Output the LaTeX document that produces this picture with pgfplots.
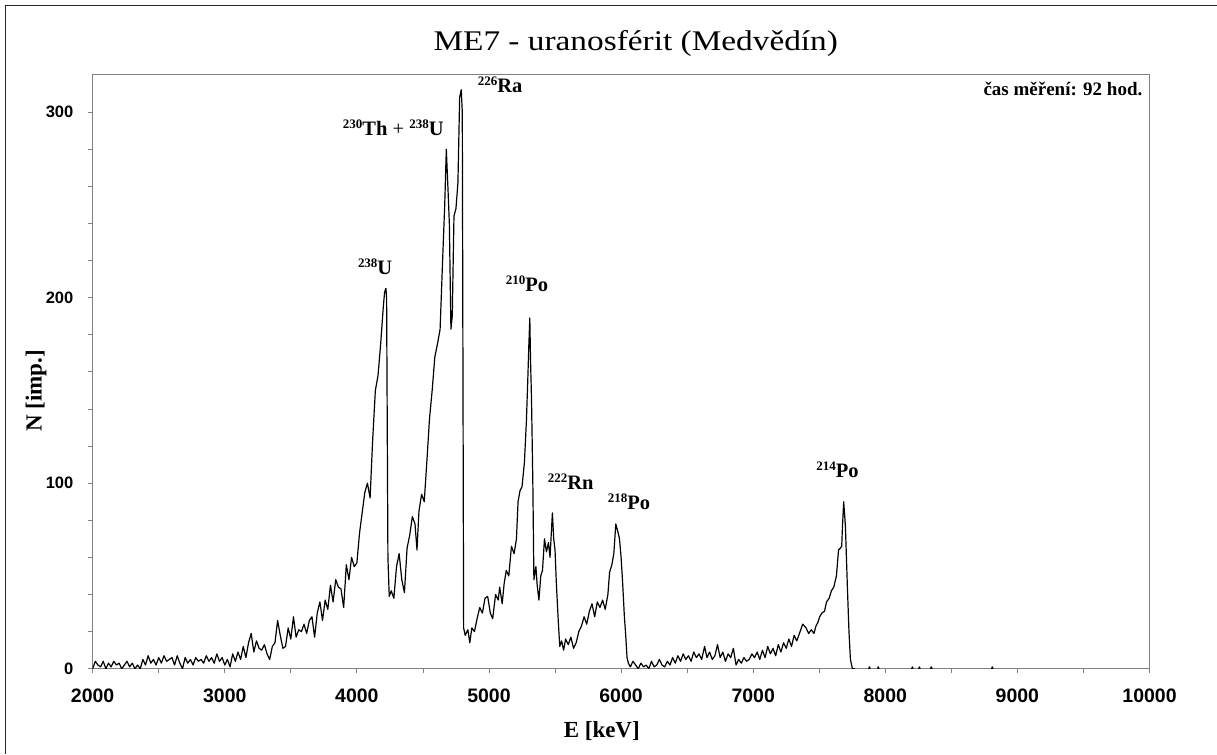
\documentclass[border=0pt]{standalone}
\usepackage{fontspec}
\setmainfont{Liberation Serif}
\newfontfamily\arial{Liberation Sans}
\usepackage{graphicx}
\usepackage{pgfplots}
\pgfplotsset{compat=1.18}
\definecolor{axisgray}{RGB}{128,128,128}
% isotope label: mass number raised, element symbol
\newcommand{\iso}[2]{\raisebox{6.8pt}{\fontsize{13}{13}\selectfont\bfseries #1}#2}

\begin{document}
\begin{tikzpicture}
\path (0,0) rectangle (1217pt,754pt);
\draw[line width=1pt, black!85] (6pt,0pt) -- (6pt,748pt) -- (1217pt,748pt);
\node[anchor=base, inner sep=0pt] at (636pt,703pt)
  {\scalebox{1.17}[1]{\fontsize{28.5}{32}\selectfont ME7 - uranosférit (Medvědín)}};
\node[anchor=base, inner sep=0pt, font=\bfseries\fontsize{23}{25}\selectfont] at (602pt,16pt) {E [keV]};
\node[rotate=90, anchor=base, inner sep=0pt, font=\bfseries\fontsize{23}{25}\selectfont] at (41.7pt,363pt) {N [imp.]};

\begin{axis}[
  at={(92.7pt,85pt)}, anchor=south west,
  scale only axis, width=1057.3pt, height=594pt,
  xmin=2000, xmax=10000, ymin=0, ymax=320,
  xtick={2000,3000,...,10000}, minor x tick num=1,
  ytick={0,100,200,300}, minor y tick num=4,
  xtick pos=bottom, ytick pos=left,
  scaled x ticks=false, scaled y ticks=false,
  tick align=outside, major tick length=4.5pt, minor tick length=4.5pt,
  axis line style={axisgray, line width=1pt},
  every tick/.style={axisgray, line width=0.8pt},
  /pgf/number format/assume math mode=true,
  /pgf/number format/1000 sep={},
  xticklabel style={font={\arial\bfseries\fontsize{19.5}{20}\selectfont}, inner sep=0pt, anchor=north, yshift=-15pt},
  yticklabel style={font={\arial\bfseries\fontsize{16.5}{18}\selectfont}, inner sep=0pt, anchor=east, xshift=-14.7pt},
  unbounded coords=jump,
]
\addplot[black, line width=1.2pt, line join=round, mark=none] coordinates {
(2000,0)(2020,4)(2040,2)(2060,1)(2080,4)(2100,0)(2120,3)(2140,1)(2160,4)(2180,2)
(2200,3)(2220,0)(2240,2)(2260,4)(2280,1)(2300,3)(2320,0)(2340,2)(2360,0)(2380,5)
(2400,2)(2420,7)(2440,3)(2460,5)(2480,2)(2500,6)(2520,3)(2540,7)(2560,4)(2580,5)
(2600,6)(2620,2)(2640,7)(2660,3)(2680,0)(2700,6)(2720,3)(2740,5)(2760,2)(2780,6)
(2800,4)(2820,5)(2840,3)(2860,7)(2880,4)(2900,6)(2920,3)(2940,8)(2960,4)(2980,6)
(3000,2)(3020,5)(3040,1)(3060,8)(3080,4)(3100,9)(3120,5)(3140,12)(3160,6)(3180,14)
(3200,19)(3220,9)(3240,15)(3260,11)(3280,10)(3300,13)(3320,8)(3340,5)(3360,12)(3380,14)
(3400,26)(3420,18)(3440,11)(3460,12)(3480,22)(3500,16)(3520,28)(3540,17)(3560,21)(3580,20)
(3600,24)(3620,19)(3640,26)(3660,28)(3680,17)(3700,30)(3720,36)(3740,26)(3760,37)(3780,32)
(3800,45)(3820,36)(3840,48)(3860,44)(3880,43)(3900,33)(3920,56)(3940,48)(3960,60)(3980,55)
(4000,57)(4020,73)(4040,84)(4060,95)(4080,100)(4100,92)(4120,124)(4140,150)(4160,158)(4180,175)
(4200,195)(4210,203)(4220,205)(4225,200)(4235,60)(4245,39)(4260,42)(4280,38)(4300,55)(4320,62)
(4340,48)(4360,41)(4380,65)(4400,72)(4420,82)(4440,78)(4455,64)(4470,85)(4490,94)(4510,90)
(4530,112)(4550,135)(4570,150)(4590,168)(4610,175)(4630,183)(4650,222)(4665,250)(4677,280)(4690,258)
(4700,240)(4712,183)(4722,190)(4735,244)(4750,248)(4765,262)(4778,308)(4790,312)(4798,300)(4808,22)
(4820,18)(4840,21)(4855,14)(4870,22)(4890,20)(4910,27)(4930,33)(4950,30)(4970,38)(4990,39)
(5010,30)(5028,27)(5050,40)(5070,37)(5081,44)(5100,35)(5115,46)(5131,53)(5150,50)(5170,66)
(5190,62)(5208,70)(5220,90)(5235,96)(5250,98)(5268,111)(5283,133)(5293,154)(5302,175)(5309,189)
(5315,165)(5322,145)(5332,100)(5340,48)(5355,55)(5365,45)(5378,37)(5392,50)(5405,53)(5420,70)
(5435,63)(5450,68)(5462,60)(5480,84)(5490,70)(5500,64)(5510,46)(5525,25)(5536,12)(5550,15)
(5565,10)(5580,16)(5600,13)(5620,17)(5640,11)(5660,14)(5680,20)(5700,23)(5720,28)(5740,24)
(5760,31)(5780,35)(5800,28)(5820,36)(5840,33)(5860,37)(5880,32)(5900,40)(5913,52)(5930,56)
(5945,62)(5960,78)(5975,74)(5988,70)(6000,60)(6012,46)(6025,28)(6035,18)(6045,6)(6055,3)
(6070,1)(6090,4)(6110,2)(6130,0)(6150,3)(6170,1)(6190,2)(6210,0)(6230,4)(6250,1)
(6270,2)(6290,5)(6310,2)(6330,1)(6350,4)(6370,2)(6390,6)(6410,3)(6430,7)(6450,4)
(6470,8)(6490,5)(6510,7)(6530,4)(6550,9)(6570,6)(6590,8)(6610,5)(6632,12)(6650,6)
(6670,9)(6690,5)(6710,7)(6730,13)(6750,6)(6770,9)(6790,4)(6810,8)(6830,6)(6850,11)
(6870,2)(6890,5)(6910,3)(6930,6)(6950,4)(6970,5)(6990,8)(7010,6)(7030,9)(7050,5)
(7070,10)(7090,6)(7110,12)(7130,8)(7150,11)(7170,7)(7190,13)(7210,9)(7230,14)(7250,11)
(7270,16)(7290,12)(7310,18)(7330,15)(7350,19)(7375,24)(7400,22)(7420,19)(7440,21)(7460,19)
(7475,23)(7490,25)(7503,28)(7520,30)(7540,31)(7555,36)(7575,38)(7592,42)(7610,44)(7630,50)
(7646,64)(7660,65)(7670,66)(7676,77)(7685,90)(7698,77)(7713,44)(7725,20)(7736,5)(7751,0)
(7770,0)
(7800,nan)(7874,0)(7880,1)(7886,0)
(7900,nan)(7941,0)(7947,1)(7953,0)
(8000,nan)(8199,0)(8205,1)(8211,0)
(8230,nan)(8252,0)(8258,1)(8264,0)
(8300,nan)(8342,0)(8348,1)(8354,0)
(8500,nan)(8804,0)(8810,1)(8816,0)
};
\node[anchor=base west, inner sep=0pt, font=\bfseries\fontsize{20.5}{22}\selectfont]
  at (axis cs:3893,287.5) {\iso{230}{Th} {\mdseries +} \iso{238}{U}};
\node[anchor=base west, inner sep=0pt, font=\bfseries\fontsize{20.5}{22}\selectfont]
  at (axis cs:4914,310.7) {\iso{226}{Ra}};
\node[anchor=base west, inner sep=0pt, font=\bfseries\fontsize{20.5}{22}\selectfont]
  at (axis cs:4007,212.5) {\iso{238}{U}};
\node[anchor=base west, inner sep=0pt, font=\bfseries\fontsize{20.5}{22}\selectfont]
  at (axis cs:5126,203.3) {\iso{210}{Po}};
\node[anchor=base west, inner sep=0pt, font=\bfseries\fontsize{20.5}{22}\selectfont]
  at (axis cs:5444,96.5) {\iso{222}{Rn}};
\node[anchor=base west, inner sep=0pt, font=\bfseries\fontsize{20.5}{22}\selectfont]
  at (axis cs:5898,85.8) {\iso{218}{Po}};
\node[anchor=base west, inner sep=0pt, font=\bfseries\fontsize{20.5}{22}\selectfont]
  at (axis cs:7477,103) {\iso{214}{Po}};
\node[anchor=base east, inner sep=0pt, font=\bfseries\fontsize{19}{21}\selectfont]
  at (rel axis cs:0.9934,0.9646) {čas měření: 92 hod.};
\end{axis}
\end{tikzpicture}
\end{document}
